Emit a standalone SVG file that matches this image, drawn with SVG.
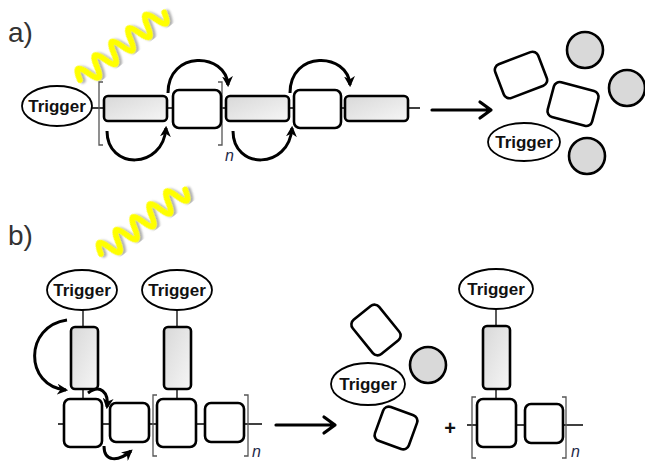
<svg xmlns="http://www.w3.org/2000/svg" width="645" height="462" viewBox="0 0 645 462">
  <defs>
    <linearGradient id="grayFill" x1="0" y1="0" x2="1" y2="1">
      <stop offset="0" stop-color="#d8d8d8"/>
      <stop offset="1" stop-color="#f6f6f6"/>
    </linearGradient>
    <filter id="waveShadow" x="-20%" y="-20%" width="140%" height="140%">
      <feDropShadow dx="2" dy="2" stdDeviation="1.2" flood-color="#777" flood-opacity="0.6"/>
    </filter>
    <marker id="arcHead" viewBox="0 0 10 10" refX="8" refY="5" markerWidth="11" markerHeight="11" markerUnits="userSpaceOnUse" orient="auto">
      <path d="M0,0 L10,5 L0,10 L3,5 Z" fill="#000"/>
    </marker>
  </defs>
  <style>
    .label { font-family: "Liberation Sans", Arial, sans-serif; font-size: 28px; fill: #333; }
    .trig { font-family: "Liberation Sans", Arial, sans-serif; font-size: 17px; font-weight: bold; fill: #111; text-anchor: middle; }
    .nsub { font-family: "Liberation Sans", Arial, sans-serif; font-size: 16px; font-style: italic; fill: #1f2a4a; }
    .plus { font-family: "Liberation Sans", Arial, sans-serif; font-size: 20px; font-weight: bold; fill: #111; text-anchor: middle; }
    .oval { fill: #fff; stroke: #000; stroke-width: 1.8; }
    .grey { fill: url(#grayFill); stroke: #000; stroke-width: 2.6; }
    .white { fill: #fff; stroke: #000; stroke-width: 2.6; }
    .ball { fill: #d9d9d9; stroke: #000; stroke-width: 2.6; }
    .link { stroke: #000; stroke-width: 1.3; fill: none; }
    .bracket { stroke: #555; stroke-width: 1.3; fill: none; }
    .arc { stroke: #000; stroke-width: 3; fill: none; marker-end: url(#arcHead); }
    .arrow { stroke: #000; stroke-width: 3.2; fill: none; stroke-linecap: round; stroke-linejoin: round; }
    .wave { stroke: #ffff00; stroke-width: 6; fill: none; stroke-linecap: round; stroke-linejoin: round; filter: url(#waveShadow); }
  </style>

  <!-- panel labels -->
  <text class="label" x="8" y="42">a)</text>
  <text class="label" x="8" y="245">b)</text>

  <!-- light waves -->
  <g id="light-a" transform="translate(80,80) rotate(-38.7)">
    <path class="wave" d="M0,0 q5.4,-20 10.8,0 t10.8,0 t10.8,0 t10.8,0 t10.8,0 t10.8,0 t10.8,0 t10.8,0 t10.8,0 t10.8,0"/>
  </g>
  <g id="light-b" transform="translate(101,254) rotate(-37.4)">
    <path class="wave" d="M0,0 q5.3,-20 10.6,0 t10.6,0 t10.6,0 t10.6,0 t10.6,0 t10.6,0 t10.6,0 t10.6,0 t10.6,0 t10.6,0"/>
  </g>

  <!-- connectors -->
  <g id="connectors">
    <!-- panel a backbone -->
    <line class="link" x1="92" y1="108" x2="420" y2="108"/>
    <!-- panel a brackets -->
    <path class="bracket" d="M103,82 H99 V145 H103"/>
    <path class="bracket" d="M218,82 H222 V145 H218"/>
    <!-- panel a cascade arcs -->
    <path class="arc" d="M168,93 C168,50 226,52 228,85"/>
    <path class="arc" d="M290,93 C290,50 348,52 350,85"/>
    <path class="arc" d="M107,131 C107,170 163,170 166,128"/>
    <path class="arc" d="M233,131 C233,170 289,170 292,128"/>
    <!-- panel a reaction arrow -->
    <path class="arrow" d="M432,110 H490 M480,102 L491,110 L480,118"/>

    <!-- panel b polymer backbone -->
    <line class="link" x1="58" y1="424" x2="262" y2="424"/>
    <line class="link" x1="83" y1="310" x2="83" y2="400"/>
    <line class="link" x1="177" y1="310" x2="177" y2="400"/>
    <path class="bracket" d="M157,395 H153 V456 H157"/>
    <path class="bracket" d="M244,395 H248 V456 H244"/>
    <!-- panel b cascade arcs -->
    <path class="arc" d="M67,320 C24,326 24,386 66,390"/>
    <path class="arc" d="M88,393 C100,384 109,392 107,407"/>
    <path class="arc" d="M104,446 C104,462 118,462 131,451"/>
    <!-- panel b reaction arrow -->
    <path class="arrow" d="M276,425 H334 M324,417 L335,425 L324,433"/>

    <!-- panel b product backbone -->
    <line class="link" x1="467" y1="425" x2="583" y2="425"/>
    <line class="link" x1="496" y1="309" x2="496" y2="400"/>
    <path class="bracket" d="M476,397 H472 V458 H476"/>
    <path class="bracket" d="M562,397 H566 V458 H562"/>
  </g>

  <!-- panel a: polymer -->
  <g id="a-trigger"><ellipse class="oval" cx="57" cy="106" rx="35" ry="20"/><text class="trig" x="57" y="112">Trigger</text></g>
  <g id="a-unit1"><rect class="grey" x="104" y="96" width="63" height="25" rx="4"/></g>
  <g id="a-unit2"><rect class="white" x="173" y="90" width="48" height="38" rx="6"/></g>
  <g id="a-unit3"><rect class="grey" x="226" y="96" width="63" height="25" rx="4"/></g>
  <g id="a-unit4"><rect class="white" x="294" y="90" width="47" height="38" rx="6"/></g>
  <g id="a-unit5"><rect class="grey" x="345" y="96" width="63" height="25" rx="4"/></g>
  <text class="nsub" x="225" y="161">n</text>

  <!-- panel a: fragments -->
  <g id="a-frag1"><rect class="white" x="-23" y="-18" width="46" height="36" rx="6" transform="translate(521,75) rotate(-21)"/></g>
  <g id="a-frag2"><rect class="white" x="-23" y="-18" width="46" height="36" rx="6" transform="translate(573,104) rotate(15)"/></g>
  <g id="a-ball1"><circle class="ball" cx="585" cy="50" r="18"/></g>
  <g id="a-ball2"><circle class="ball" cx="627" cy="88" r="18"/></g>
  <g id="a-ball3"><circle class="ball" cx="587" cy="156" r="18"/></g>
  <g id="a-trigger-free"><ellipse class="oval" cx="524" cy="142" rx="36" ry="19"/><text class="trig" x="524" y="148">Trigger</text></g>

  <!-- panel b: polymer -->
  <g id="b-trigger1"><ellipse class="oval" cx="82" cy="290" rx="35" ry="20"/><text class="trig" x="82" y="296">Trigger</text></g>
  <g id="b-trigger2"><ellipse class="oval" cx="177" cy="290" rx="35" ry="20"/><text class="trig" x="177" y="296">Trigger</text></g>
  <g id="b-side1"><rect class="grey" x="71" y="327" width="27" height="62" rx="4"/></g>
  <g id="b-side2"><rect class="grey" x="164" y="327" width="27" height="62" rx="4"/></g>
  <g id="b-unit1"><rect class="white" x="64" y="399" width="38" height="48" rx="6"/></g>
  <g id="b-unit2"><rect class="white" x="110" y="403" width="39" height="39" rx="6"/></g>
  <g id="b-unit3"><rect class="white" x="157" y="399" width="39" height="48" rx="6"/></g>
  <g id="b-unit4"><rect class="white" x="205" y="403" width="39" height="39" rx="6"/></g>
  <text class="nsub" x="252" y="457">n</text>

  <!-- panel b: fragments -->
  <g id="b-frag1"><rect class="white" x="-17" y="-22" width="34" height="44" rx="6" transform="translate(376,330) rotate(-39)"/></g>
  <g id="b-ball"><circle class="ball" cx="428" cy="365" r="18"/></g>
  <g id="b-trigger-free"><ellipse class="oval" cx="368" cy="384" rx="37" ry="21"/><text class="trig" x="368" y="390">Trigger</text></g>
  <g id="b-frag2"><rect class="white" x="-18" y="-18" width="36" height="36" rx="6" transform="translate(396,428) rotate(20)"/></g>
  <text class="plus" x="450" y="435">+</text>

  <!-- panel b: remaining polymer -->
  <g id="b-trigger3"><ellipse class="oval" cx="496" cy="289" rx="37" ry="20"/><text class="trig" x="496" y="295">Trigger</text></g>
  <g id="b-side3"><rect class="grey" x="483" y="326" width="27" height="63" rx="4"/></g>
  <g id="b-unit5"><rect class="white" x="477" y="399" width="39" height="48" rx="6"/></g>
  <g id="b-unit6"><rect class="white" x="525" y="404" width="38" height="39" rx="6"/></g>
  <text class="nsub" x="571" y="457">n</text>
</svg>
